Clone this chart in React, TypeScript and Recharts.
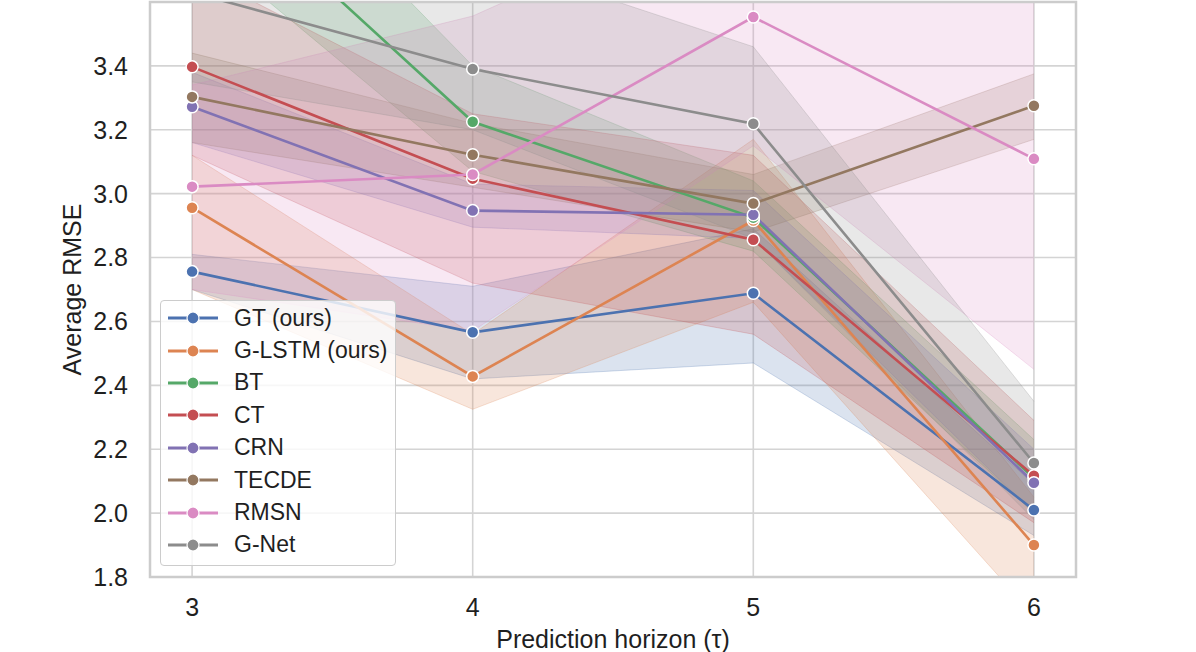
import React from 'react';
import {
  ComposedChart,
  Line,
  Area,
  XAxis,
  YAxis,
  CartesianGrid,
  Legend,
  ReferenceArea,
} from 'recharts';

const horizons = [3, 4, 5, 6];
const xTicks = [3, 4, 5, 6];
const yTicks = [1.8, 2.0, 2.2, 2.4, 2.6, 2.8, 3.0, 3.2, 3.4];

const GT_MEAN = [2.756, 2.566, 2.688, 2.01];
const GT_LO = [2.7, 2.42, 2.47, 1.93];
const GT_HI = [2.81, 2.71, 2.89, 2.09];

const GLSTM_MEAN = [2.956, 2.428, 2.916, 1.9];
const GLSTM_LO = [2.7, 2.325, 2.66, 1.68];
const GLSTM_HI = [3.12, 2.56, 3.17, 2.05];

const BT_MEAN = [4.03, 3.225, 2.925, 2.11];
const BT_LO = [3.8, 3.07, 2.82, 2.0];
const BT_HI = [4.3, 3.4, 3.04, 2.23];

const CT_MEAN = [3.397, 3.047, 2.856, 2.117];
const CT_LO = [3.12, 2.72, 2.56, 1.97];
const CT_HI = [3.7, 3.25, 3.12, 2.29];

const CRN_MEAN = [3.272, 2.947, 2.934, 2.095];
const CRN_LO = [3.16, 2.895, 2.86, 2.0];
const CRN_HI = [3.38, 3.03, 3.01, 2.2];

const TECDE_MEAN = [3.303, 3.122, 2.969, 3.275];
const TECDE_LO = [3.16, 3.02, 2.88, 3.17];
const TECDE_HI = [3.44, 3.22, 3.06, 3.375];

const RMSN_MEAN = [3.022, 3.06, 3.553, 3.109];
const RMSN_LO = [2.7, 2.57, 3.15, 2.45];
const RMSN_HI = [3.34, 3.556, 3.95, 3.77];

const GNET_MEAN = [3.63, 3.39, 3.219, 2.157];
const GNET_LO = [3.35, 3.2, 2.86, 1.98];
const GNET_HI = [3.95, 3.75, 3.46, 2.35];

const series = [
  { key: 'gt', name: 'GT (ours)', color: '#4C72B0', mean: GT_MEAN, lo: GT_LO, hi: GT_HI },
  { key: 'glstm', name: 'G-LSTM (ours)', color: '#DD8452', mean: GLSTM_MEAN, lo: GLSTM_LO, hi: GLSTM_HI },
  { key: 'bt', name: 'BT', color: '#55A868', mean: BT_MEAN, lo: BT_LO, hi: BT_HI },
  { key: 'ct', name: 'CT', color: '#C44E52', mean: CT_MEAN, lo: CT_LO, hi: CT_HI },
  { key: 'crn', name: 'CRN', color: '#8172B3', mean: CRN_MEAN, lo: CRN_LO, hi: CRN_HI },
  { key: 'tecde', name: 'TECDE', color: '#937860', mean: TECDE_MEAN, lo: TECDE_LO, hi: TECDE_HI },
  { key: 'rmsn', name: 'RMSN', color: '#DA8BC3', mean: RMSN_MEAN, lo: RMSN_LO, hi: RMSN_HI },
  { key: 'gnet', name: 'G-Net', color: '#8C8C8C', mean: GNET_MEAN, lo: GNET_LO, hi: GNET_HI },
];

const data = horizons.map((h, i) => {
  const row: Record<string, any> = { x: h };
  series.forEach((s) => {
    row[s.key] = s.mean[i];
    row[s.key + '_band'] = [s.lo[i], s.hi[i]];
  });
  return row;
});

const FONT = '"Liberation Sans", Arial, Helvetica, sans-serif';
const TEXT = '#1f1f1f';

const LegendBox = (props: any) => {
  const payload = (props.payload || []).filter((p: any) => p.type !== 'none');
  const ordered = series
    .map((s) => payload.find((p: any) => p.value === s.name) || { value: s.name, color: s.color })
    .filter(Boolean);
  return (
    <div
      style={{
        background: 'rgba(255,255,255,0.8)',
        border: '1.5px solid #cccccc',
        borderRadius: 4,
        padding: '1px 8px 4px 7px',
        fontFamily: FONT,
        fontSize: 23,
        color: TEXT,
        boxSizing: 'border-box',
        width: 236,
      }}
    >
      {ordered.map((p: any) => (
        <div key={p.value} style={{ display: 'flex', alignItems: 'center', height: 32.4 }}>
          <svg width={50} height={14} style={{ marginRight: 16, flex: 'none' }}>
            <line x1={0} y1={7} x2={50} y2={7} stroke={p.color} strokeWidth={2.8} />
            <circle cx={25} cy={7} r={6} fill={p.color} stroke="#fff" strokeWidth={1.2} />
          </svg>
          <span style={{ whiteSpace: 'nowrap' }}>{p.value}</span>
        </div>
      ))}
    </div>
  );
};

export default function App() {
  return (
    <div style={{ position: 'absolute', left: 0, top: 0, width: 1196, height: 652, background: '#fff' }}>
      <ComposedChart
        width={1196}
        height={652}
        data={data}
        margin={{ top: 2, right: 120, bottom: 0, left: 50 }}
      >
        <CartesianGrid stroke="#d4d4d4" strokeWidth={1.6} />
        <XAxis
          dataKey="x"
          type="number"
          domain={[2.85, 6.15]}
          ticks={xTicks}
          allowDataOverflow
          height={75}
          tickLine={false}
          tickSize={0}
          tickMargin={21}
          axisLine={false}
          tick={{ fill: TEXT, fontSize: 25, fontFamily: FONT }}
          label={{
            value: 'Prediction horizon (τ)',
            position: 'insideBottom',
            offset: 4,
            fill: TEXT,
            fontSize: 25,
            fontFamily: FONT,
          }}
        />
        <YAxis
          type="number"
          domain={[1.8, 3.6]}
          ticks={yTicks}
          allowDataOverflow
          width={100}
          tickLine={false}
          tickSize={0}
          tickMargin={22}
          axisLine={false}
          tickFormatter={(v: number) => v.toFixed(1)}
          tick={{ fill: TEXT, fontSize: 25, fontFamily: FONT }}
          label={{
            value: 'Average RMSE',
            angle: -90,
            position: 'insideLeft',
            offset: 22,
            fill: TEXT,
            fontSize: 25,
            fontFamily: FONT,
            style: { textAnchor: 'middle' },
          }}
        />
        {series.map((s) => (
          <Area
            key={s.key + '_band'}
            dataKey={s.key + '_band'}
            type="linear"
            fill={s.color}
            fillOpacity={0.2}
            stroke={s.color}
            strokeOpacity={0.25}
            strokeWidth={1}
            legendType="none"
            isAnimationActive={false}
            activeDot={false}
            dot={false}
          />
        ))}
        {series.map((s) => (
          <Line
            key={s.key}
            dataKey={s.key}
            name={s.name}
            type="linear"
            stroke={s.color}
            strokeWidth={2.6}
            dot={{ r: 6, fill: s.color, stroke: '#ffffff', strokeWidth: 1.5, fillOpacity: 1 }}
            activeDot={false}
            isAnimationActive={false}
          />
        ))}
        <ReferenceArea
          x1={2.85}
          x2={6.15}
          y1={1.8}
          y2={3.6}
          fill="none"
          stroke="#cccccc"
          strokeWidth={2.5}
          ifOverflow="visible"
        />
        <Legend
          layout="vertical"
          align="center"
          verticalAlign="middle"
          content={<LegendBox />}
          wrapperStyle={{ left: 160, top: 300, width: 'auto', height: 'auto' }}
        />
      </ComposedChart>
    </div>
  );
}
